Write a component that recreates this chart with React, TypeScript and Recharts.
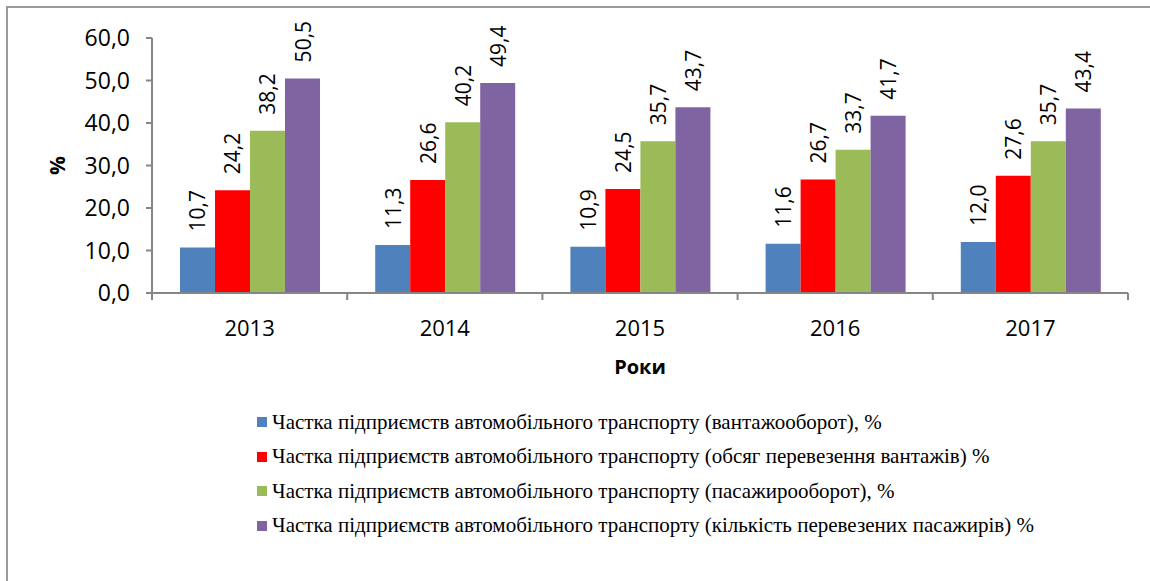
import { BarChart, Bar, XAxis, YAxis, LabelList } from 'recharts'

const years = ['2013', '2014', '2015', '2016', '2017']
const freightTurnover = [10.7, 11.3, 10.9, 11.6, 12.0]
const freightVolume = [24.2, 26.6, 24.5, 26.7, 27.6]
const passengerTurnover = [38.2, 40.2, 35.7, 33.7, 35.7]
const passengerCount = [50.5, 49.4, 43.7, 41.7, 43.4]
const yTicks = [0, 10, 20, 30, 40, 50, 60]

const seriesNames = [
  'Частка підприємств автомобільного транспорту (вантажооборот), %',
  'Частка підприємств автомобільного транспорту (обсяг перевезення вантажів) %',
  'Частка підприємств автомобільного транспорту (пасажирооборот), %',
  'Частка підприємств автомобільного транспорту (кількість перевезених пасажирів) %',
]
const seriesKeys = ['s1', 's2', 's3', 's4']
const seriesColors = ['#4F81BD', '#FF0000', '#9BBB59', '#8064A2']

const data = years.map((year, i) => ({
  year,
  s1: freightTurnover[i],
  s2: freightVolume[i],
  s3: passengerTurnover[i],
  s4: passengerCount[i],
}))

const W = 1150
const H = 581
const margin = { top: 38, right: 22, left: 72, bottom: 198 }
const yAxisWidth = 80
const plotWidth = W - margin.left - margin.right - yAxisWidth
const band = plotWidth / years.length

const axisColor = '#868686'
const font = '"Open Sans", sans-serif'

const fmt = (v: number) => v.toFixed(1).replace('.', ',')

const XTick = ({ x, y, payload, index }: any) => {
  const left = x - band / 2
  const right = x + band / 2
  return (
    <g>
      <line x1={left} x2={left} y1={y} y2={y + 7} stroke={axisColor} strokeWidth={2} />
      {index === years.length - 1 && (
        <line x1={right} x2={right} y1={y} y2={y + 7} stroke={axisColor} strokeWidth={2} />
      )}
      <text x={x} y={y + 43} textAnchor="middle" fontSize={22} fontFamily={font} fill="#000">
        {payload.value}
      </text>
    </g>
  )
}

const BarLabel = ({ x, y, width, value }: any) => {
  const cx = x + width / 2
  const ty = y - 16
  return (
    <text
      x={cx}
      y={ty}
      transform={`rotate(-90 ${cx} ${ty})`}
      textAnchor="start"
      dominantBaseline="central"
      fontSize={21}
      fontFamily={font}
      fill="#000"
    >
      {fmt(value)}
    </text>
  )
}

export default function App() {
  return (
    <div
      style={{
        position: 'fixed',
        left: 0,
        top: 0,
        width: W,
        height: H,
        overflow: 'hidden',
        background: '#fff',
      }}
    >
      <div
        style={{
          position: 'absolute',
          left: 6,
          top: 6,
          width: 1144,
          height: 575,
          borderLeft: '2px solid #9a9a9a',
          borderTop: '2px solid #9a9a9a',
        }}
      />
      <div style={{ position: 'absolute', left: 0, top: 0 }}>
        <BarChart width={W} height={H} data={data} margin={margin} barCategoryGap={28} barGap={0}>
          <XAxis
            dataKey="year"
            height={90}
            tickSize={0}
            tickMargin={0}
            tickLine={false}
            axisLine={{ stroke: axisColor, strokeWidth: 2 }}
            tick={<XTick />}
            interval={0}
            label={{
              content: ({ viewBox }: any) => (
                <text
                  x={viewBox.x + viewBox.width / 2}
                  y={viewBox.y + 81}
                  textAnchor="middle"
                  fontSize={20}
                  fontWeight="bold"
                  fontFamily={font}
                  fill="#000"
                >
                  Роки
                </text>
              ),
            }}
          />
          <YAxis
            width={yAxisWidth}
            domain={[0, 60]}
            ticks={yTicks}
            interval={0}
            tickFormatter={fmt}
            tickSize={6}
            tickMargin={16}
            axisLine={{ stroke: axisColor, strokeWidth: 2 }}
            tickLine={{ stroke: axisColor, strokeWidth: 2 }}
            tick={{ fontSize: 23, fill: '#000', fontFamily: font }}
            label={{
              content: ({ viewBox }: any) => {
                const cx = 57
                const cy = viewBox.y + viewBox.height / 2
                return (
                  <text
                    x={cx}
                    y={cy}
                    transform={`rotate(-90 ${cx} ${cy})`}
                    textAnchor="middle"
                    dominantBaseline="central"
                    fontSize={21}
                    fontWeight="bold"
                    fontFamily={font}
                    fill="#000"
                  >
                    %
                  </text>
                )
              },
            }}
          />
          {seriesKeys.map((k, i) => (
            <Bar key={k} dataKey={k} name={seriesNames[i]} fill={seriesColors[i]} isAnimationActive={false}>
              <LabelList dataKey={k} content={<BarLabel />} />
            </Bar>
          ))}
        </BarChart>
      </div>
      <div
        style={{
          position: 'absolute',
          left: 257,
          top: 405,
          fontFamily: '"Liberation Serif", "Times New Roman", serif',
          fontSize: 21,
          color: '#000',
        }}
      >
        {seriesNames.map((name, i) => (
          <div key={name} style={{ display: 'flex', alignItems: 'center', height: 34.5 }}>
            <span
              style={{
                display: 'inline-block',
                width: 10,
                height: 10,
                background: seriesColors[i],
                marginRight: 5,
              }}
            />
            <span>{name}</span>
          </div>
        ))}
      </div>
    </div>
  )
}
